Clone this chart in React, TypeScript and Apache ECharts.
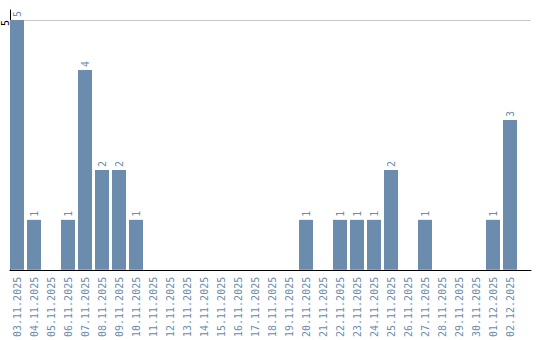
import React, { useEffect, useRef } from "react";
import * as echarts from "echarts";

const categories = [
  "03.11.2025", "04.11.2025", "05.11.2025", "06.11.2025", "07.11.2025",
  "08.11.2025", "09.11.2025", "10.11.2025", "11.11.2025", "12.11.2025",
  "13.11.2025", "14.11.2025", "15.11.2025", "16.11.2025", "17.11.2025",
  "18.11.2025", "19.11.2025", "20.11.2025", "21.11.2025", "22.11.2025",
  "23.11.2025", "24.11.2025", "25.11.2025", "26.11.2025", "27.11.2025",
  "28.11.2025", "29.11.2025", "30.11.2025", "01.12.2025", "02.12.2025",
];
const values = [5, 1, 0, 1, 4, 2, 2, 1, 0, 0, 0, 0, 0, 0, 0, 0, 0, 1, 0, 1, 1, 1, 2, 0, 1, 0, 0, 0, 1, 3];

const BAR = "#6b8cad";
const FONT = "DejaVu Sans Mono";

export default function App() {
  const ref = useRef<HTMLDivElement>(null);
  useEffect(() => {
    if (!ref.current) return;
    const chart = echarts.init(ref.current, null, { renderer: "svg" });
    chart.setOption({
      animation: false,
      grid: [
        { left: 8.5, width: 510, top: 20, height: 250 },
        { left: 10, width: 521, top: 10, height: 260 },
      ],
      xAxis: [
        {
          type: "category",
          gridIndex: 0,
          data: categories,
          axisLine: { show: false },
          axisTick: { show: false },
          axisLabel: {
            rotate: 90,
            interval: 0,
            margin: 7,
            fontSize: 10,
            fontFamily: FONT,
            color: BAR,
          },
        },
        {
          type: "value",
          gridIndex: 1,
          min: 0,
          max: 1,
          axisLine: { show: true, lineStyle: { color: "#000", width: 1 } },
          axisTick: { show: false },
          axisLabel: { show: false },
          splitLine: { show: false },
        },
      ],
      yAxis: [
        {
          type: "value",
          gridIndex: 0,
          min: 0,
          max: 5,
          show: false,
          splitLine: { show: false },
        },
        {
          type: "value",
          gridIndex: 1,
          min: 0,
          max: 5.2,
          interval: 5,
          axisLine: { show: true, lineStyle: { color: "#000", width: 1 } },
          axisTick: { show: false },
          axisLabel: {
            show: true,
            rotate: 90,
            align: "right",
            verticalAlign: "middle",
            margin: 5,
            fontSize: 10,
            fontFamily: FONT,
            color: "#000",
            showMinLabel: false,
            showMaxLabel: false,
          },
          splitLine: {
            show: true,
            showMinLine: false,
            showMaxLine: false,
            lineStyle: { color: "#c8c8c8", width: 1 },
          },
        },
      ],
      series: [
        {
          type: "bar",
          xAxisIndex: 0,
          yAxisIndex: 0,
          data: values,
          barWidth: 14,
          itemStyle: { color: BAR },
          label: {
            show: true,
            position: "top",
            rotate: 90,
            align: "left",
            verticalAlign: "middle",
            distance: 3,
            fontSize: 10,
            fontFamily: FONT,
            color: BAR,
            formatter: (p: any) => (p.value ? String(p.value) : ""),
          },
        },
      ],
    });
    return () => chart.dispose();
  }, []);
  return <div ref={ref} style={{ width: 540, height: 340, position: "absolute", left: 0, top: 0 }} />;
}
